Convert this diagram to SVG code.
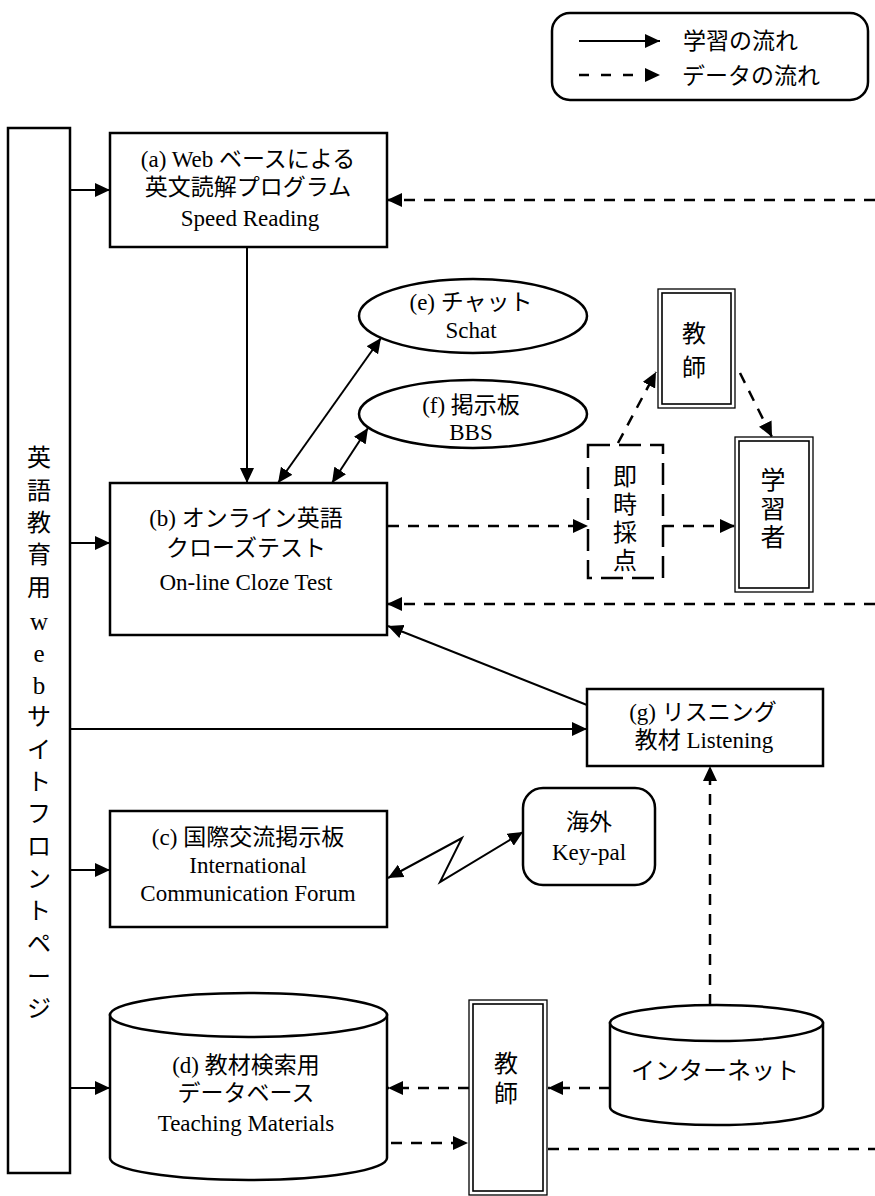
<svg xmlns="http://www.w3.org/2000/svg" width="875" height="1196" viewBox="0 0 875 1196">
<defs>
<style>
.t{font-family:"Liberation Serif","Noto Sans CJK JP",serif;font-size:23px;fill:#000;text-anchor:middle}
.j{font-family:"Noto Sans CJK JP","Liberation Serif",sans-serif;font-size:24px;fill:#000;text-anchor:middle}
.v{font-family:"Noto Sans CJK JP",sans-serif;font-size:24px;fill:#000;text-anchor:middle;writing-mode:vertical-rl}
.lg{font-family:"Noto Sans CJK JP",sans-serif;font-size:23px;fill:#000}
.box{fill:#fff;stroke:#000;stroke-width:2.5}
.thin{fill:#fff;stroke:#000;stroke-width:1.3}
.in{fill:none;stroke:#000;stroke-width:1.6}
.sol{fill:none;stroke:#000;stroke-width:2}
.dsh{fill:none;stroke:#000;stroke-width:2.5;stroke-dasharray:11 9}
</style>
<marker id="ah" markerUnits="userSpaceOnUse" markerWidth="16" markerHeight="14" refX="15" refY="7" orient="auto-start-reverse">
<path d="M0,0 L15,7 L0,14 Z" fill="#000"/>
</marker>
</defs>

<g id="legend">
<rect x="552" y="13" width="316" height="87" rx="18" class="box" stroke-width="2"/>
<line x1="579" y1="41" x2="660" y2="41" class="sol" marker-end="url(#ah)"/>
<line x1="579" y1="75" x2="660" y2="75" class="dsh" style="stroke-dasharray:10 12" marker-end="url(#ah)"/>
<text class="lg" x="683" y="49">学習の流れ</text>
<text class="lg" x="682" y="84">データの流れ</text>
</g>

<g id="front">
<rect x="8" y="128" width="62" height="1045" class="box"/>
<text class="j" x="39" y="466">英</text>
<text class="j" x="39" y="499">語</text>
<text class="j" x="39" y="531">教</text>
<text class="j" x="39" y="563">育</text>
<text class="j" x="39" y="596">用</text>
<text class="t" x="39" y="630" style="font-size:25px">w</text>
<text class="t" x="39" y="662" style="font-size:25px">e</text>
<text class="t" x="39" y="694" style="font-size:25px">b</text>
<text class="j" x="39" y="725">サ</text>
<text class="j" x="39" y="758">イ</text>
<text class="j" x="39" y="790">ト</text>
<text class="j" x="39" y="822">フ</text>
<text class="j" x="39" y="855">ロ</text>
<text class="j" x="39" y="887">ン</text>
<text class="j" x="39" y="919">ト</text>
<text class="j" x="39" y="952">ペ</text>
<text class="j" x="39" y="985">ー</text>
<text class="j" x="39" y="1017">ジ</text>
</g>

<g id="node-a">
<rect x="110" y="133" width="277" height="114" class="box"/>
<text class="t" x="248" y="167">(a) Web ベースによる</text>
<text class="t" x="248" y="195">英文読解プログラム</text>
<text class="t" x="250" y="226">Speed Reading</text>
</g>

<g id="node-e">
<ellipse cx="473" cy="316" rx="114" ry="37" class="box"/>
<text class="t" x="471" y="310">(e) チャット</text>
<text class="t" x="471" y="338">Schat</text>
</g>

<g id="node-f">
<ellipse cx="473" cy="414" rx="114" ry="34" class="box"/>
<text class="t" x="471" y="413">(f) 掲示板</text>
<text class="t" x="471" y="440">BBS</text>
</g>

<g id="node-teacher1">
<rect x="658" y="289" width="77" height="119" class="thin"/>
<rect x="662" y="293" width="69" height="111" class="in"/>
<text class="v" x="694" y="355" style="letter-spacing:10px">教師</text>
</g>

<g id="node-b">
<rect x="110" y="483" width="277" height="152" class="box"/>
<text class="t" x="246" y="526">(b) オンライン英語</text>
<text class="t" x="246" y="556">クローズテスト</text>
<text class="t" x="246" y="590">On-line Cloze Test</text>
</g>

<g id="node-score">
<rect x="588" y="445" width="75" height="133" fill="#fff" stroke="#000" stroke-width="2.5" stroke-dasharray="22 9"/>
<text class="v" x="625" y="520" style="letter-spacing:4.3px">即時採点</text>
</g>

<g id="node-learner">
<rect x="735" y="437" width="78" height="155" class="thin"/>
<rect x="739" y="441" width="70" height="147" class="in"/>
<text class="v" x="773" y="510" style="letter-spacing:3.5px;font-size:25px">学習者</text>
</g>

<g id="node-g">
<rect x="587" y="689" width="236" height="77" class="box"/>
<text class="t" x="703" y="720">(g) リスニング</text>
<text class="t" x="704" y="748">教材 Listening</text>
</g>

<g id="node-c">
<rect x="110" y="811" width="277" height="116" class="box"/>
<text class="t" x="248" y="845">(c) 国際交流掲示板</text>
<text class="t" x="248" y="873">International</text>
<text class="t" x="248" y="901">Communication Forum</text>
</g>

<g id="node-keypal">
<rect x="523" y="788" width="132" height="97" rx="20" class="box"/>
<text class="t" x="589" y="830">海外</text>
<text class="t" x="589" y="860">Key-pal</text>
</g>

<g id="node-d">
<path d="M110,1015 L110,1158 A138.5,22 0 0,0 387,1158 L387,1015 Z" class="box"/>
<ellipse cx="248.5" cy="1015" rx="138.5" ry="22" class="box"/>
<text class="t" x="246" y="1073">(d) 教材検索用</text>
<text class="t" x="246" y="1101">データベース</text>
<text class="t" x="246" y="1131">Teaching Materials</text>
</g>

<g id="node-teacher2">
<rect x="469" y="1000" width="78" height="195" class="thin"/>
<rect x="473" y="1004" width="70" height="187" class="in"/>
<text class="v" x="506" y="1081" style="letter-spacing:6px">教師</text>
</g>

<g id="node-internet">
<path d="M610,1023 L610,1107 A106.5,18 0 0,0 823,1107 L823,1023 Z" class="box"/>
<ellipse cx="716.5" cy="1023" rx="106.5" ry="18" class="box"/>
<text class="j" x="715" y="1079">インターネット</text>
</g>

<g id="connectors">
<line x1="70" y1="190" x2="110" y2="190" class="sol" marker-end="url(#ah)"/>
<line x1="70" y1="543" x2="110" y2="543" class="sol" marker-end="url(#ah)"/>
<line x1="70" y1="870" x2="110" y2="870" class="sol" marker-end="url(#ah)"/>
<line x1="70" y1="1088" x2="110" y2="1088" class="sol" marker-end="url(#ah)"/>
<line x1="70" y1="729" x2="587" y2="729" class="sol" marker-end="url(#ah)"/>
<line x1="247" y1="247" x2="247" y2="483" class="sol" marker-end="url(#ah)"/>
<line x1="278" y1="483" x2="381" y2="338" class="sol" marker-start="url(#ah)" marker-end="url(#ah)"/>
<line x1="332" y1="483" x2="368" y2="428" class="sol" marker-start="url(#ah)" marker-end="url(#ah)"/>
<line x1="587" y1="705" x2="388" y2="626" class="sol" marker-end="url(#ah)"/>
<polyline points="388,878 462,838 440,882 523,832" class="sol" marker-start="url(#ah)" marker-end="url(#ah)"/>
<line x1="875" y1="200" x2="387" y2="200" class="dsh" marker-end="url(#ah)"/>
<line x1="388" y1="526" x2="588" y2="526" class="dsh" marker-end="url(#ah)"/>
<line x1="663" y1="526" x2="735" y2="526" class="dsh" marker-end="url(#ah)"/>
<line x1="618" y1="443" x2="656" y2="372" class="dsh" marker-end="url(#ah)"/>
<line x1="740" y1="373" x2="772" y2="437" class="dsh" marker-end="url(#ah)"/>
<line x1="875" y1="604" x2="387" y2="604" class="dsh" marker-end="url(#ah)"/>
<line x1="710" y1="1005" x2="710" y2="766" class="dsh" marker-end="url(#ah)"/>
<line x1="469" y1="1088" x2="388" y2="1088" class="dsh" marker-end="url(#ah)"/>
<line x1="610" y1="1088" x2="548" y2="1088" class="dsh" marker-end="url(#ah)"/>
<line x1="391" y1="1143" x2="468" y2="1143" class="dsh" marker-end="url(#ah)"/>
<line x1="548" y1="1149" x2="875" y2="1149" class="dsh"/>
</g>
</svg>
